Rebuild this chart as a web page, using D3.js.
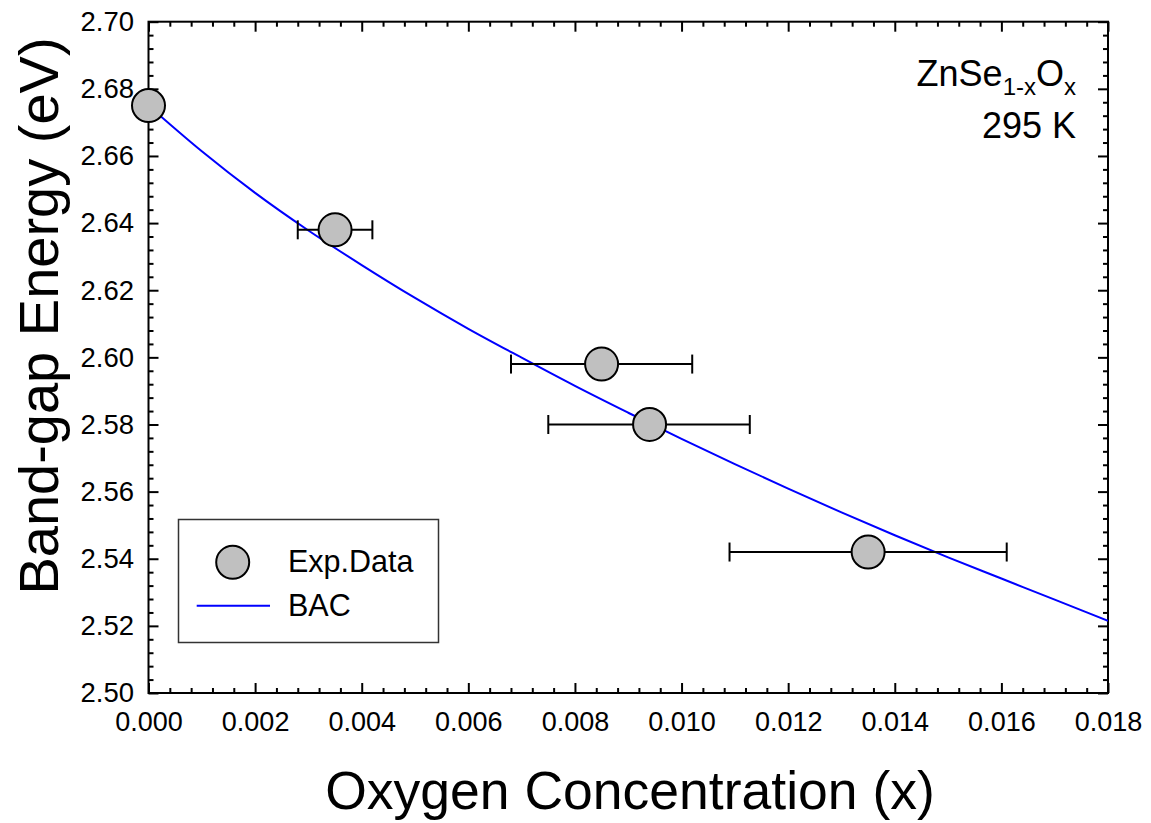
<!DOCTYPE html>
<html>
<head>
<meta charset="utf-8">
<script src="https://cdn.jsdelivr.net/npm/d3@7"></script>
<style>
  body { margin: 0; background: #fff; }
  svg { display: block; font-family: "Liberation Sans", Arial, sans-serif; }
</style>
</head>
<body>
<svg id="chart" width="1151" height="823"></svg>
<script>
// ---- data ----
const expX    = [0.0000, 0.0035, 0.0085, 0.0094, 0.0135];
const expY    = [2.675, 2.638, 2.598, 2.580, 2.542];
const errLow  = [null, 0.0028, 0.0068, 0.0075, 0.0109];
const errHigh = [null, 0.0042, 0.0102, 0.01128, 0.0161];

const bacX = [0.000, 0.001, 0.002, 0.003, 0.004, 0.005, 0.006, 0.007, 0.008, 0.009,
              0.010, 0.011, 0.012, 0.013, 0.014, 0.015, 0.016, 0.017, 0.018];
const bacY = [2.6750, 2.6614, 2.6490, 2.6378, 2.6275, 2.6177, 2.6085, 2.5999, 2.5915, 2.5835,
              2.5757, 2.5682, 2.5609, 2.5538, 2.5470, 2.5404, 2.5341, 2.5278, 2.5215];

const xTicks = [0.000, 0.002, 0.004, 0.006, 0.008, 0.010, 0.012, 0.014, 0.016, 0.018];
const xTickLabels = ["0.000","0.002","0.004","0.006","0.008","0.010","0.012","0.014","0.016","0.018"];
const yTicks = [2.50, 2.52, 2.54, 2.56, 2.58, 2.60, 2.62, 2.64, 2.66, 2.68, 2.70];
const yTickLabels = ["2.50","2.52","2.54","2.56","2.58","2.60","2.62","2.64","2.66","2.68","2.70"];
const xMinorStep = 0.0004;
const yMinorStep = 0.004;

const seriesNames = ["Exp.Data", "BAC"];

// ---- layout ----
const L = 148.5, R = 1108, T = 21.7, B = 693;
const svg = d3.select("#chart");

const x = d3.scaleLinear().domain([0, 0.018]).range([L, R]);
const y = d3.scaleLinear().domain([2.50, 2.70]).range([B, T]);

const xMinor = d3.range(0, 0.018 + 1e-9, xMinorStep).filter(v => !xTicks.some(t => Math.abs(t - v) < 1e-9));
const yMinor = d3.range(2.50, 2.70 + 1e-9, yMinorStep).filter(v => !yTicks.some(t => Math.abs(t - v) < 1e-9));

function styleAxis(g) {
  g.select(".domain").remove();
  g.selectAll(".tick line").attr("stroke", "#000").attr("stroke-width", 2);
}

// bottom major (with labels)
svg.append("g").attr("transform", `translate(0,${B})`)
  .call(d3.axisBottom(x).tickValues(xTicks).tickSizeInner(-10).tickSizeOuter(0)
        .tickFormat((d, i) => xTickLabels[i]))
  .call(styleAxis)
  .call(g => g.selectAll("text").attr("font-size", 27).attr("fill", "#000")
                .attr("font-family", "Liberation Sans, Arial, sans-serif").attr("dy", "0.71em").attr("y", 18.5));
// bottom minor
svg.append("g").attr("transform", `translate(0,${B})`)
  .call(d3.axisBottom(x).tickValues(xMinor).tickSizeInner(-5).tickSizeOuter(0).tickFormat(""))
  .call(styleAxis);
// top major/minor
svg.append("g").attr("transform", `translate(0,${T})`)
  .call(d3.axisTop(x).tickValues(xTicks).tickSizeInner(-10).tickSizeOuter(0).tickFormat(""))
  .call(styleAxis);
svg.append("g").attr("transform", `translate(0,${T})`)
  .call(d3.axisTop(x).tickValues(xMinor).tickSizeInner(-5).tickSizeOuter(0).tickFormat(""))
  .call(styleAxis);
// left major (with labels)
svg.append("g").attr("transform", `translate(${L},0)`)
  .call(d3.axisLeft(y).tickValues(yTicks).tickSizeInner(-10).tickSizeOuter(0).tickPadding(14.5)
        .tickFormat((d, i) => yTickLabels[i]))
  .call(styleAxis)
  .call(g => g.selectAll("text").attr("font-size", 27.5).attr("fill", "#000")
                .attr("font-family", "Liberation Sans, Arial, sans-serif"));
svg.append("g").attr("transform", `translate(${L},0)`)
  .call(d3.axisLeft(y).tickValues(yMinor).tickSizeInner(-5).tickSizeOuter(0).tickFormat(""))
  .call(styleAxis);
// right
svg.append("g").attr("transform", `translate(${R},0)`)
  .call(d3.axisRight(y).tickValues(yTicks).tickSizeInner(-10).tickSizeOuter(0).tickFormat(""))
  .call(styleAxis);
svg.append("g").attr("transform", `translate(${R},0)`)
  .call(d3.axisRight(y).tickValues(yMinor).tickSizeInner(-5).tickSizeOuter(0).tickFormat(""))
  .call(styleAxis);

// frame
svg.append("rect").attr("x", L).attr("y", T).attr("width", R - L).attr("height", B - T)
  .attr("fill", "none").attr("stroke", "#000").attr("stroke-width", 2);

// clip
svg.append("clipPath").attr("id", "plotclip")
  .append("rect").attr("x", L).attr("y", T).attr("width", R - L).attr("height", B - T);

// BAC curve
const bacData = bacX.map((v, i) => [v, bacY[i]]);
svg.append("path").datum(bacData)
  .attr("clip-path", "url(#plotclip)")
  .attr("fill", "none").attr("stroke", "#0000ff").attr("stroke-width", 2)
  .attr("d", d3.line().x(d => x(d[0])).y(d => y(d[1])).curve(d3.curveMonotoneX));

// error bars
const exp = expX.map((v, i) => ({x: v, y: expY[i], lo: errLow[i], hi: errHigh[i]}));
const eb = svg.append("g").attr("stroke", "#000").attr("stroke-width", 2).attr("fill", "none");
exp.filter(d => d.lo !== null).forEach(d => {
  eb.append("line").attr("x1", x(d.lo)).attr("x2", x(d.hi)).attr("y1", y(d.y)).attr("y2", y(d.y));
  eb.append("line").attr("x1", x(d.lo)).attr("x2", x(d.lo)).attr("y1", y(d.y) - 9.5).attr("y2", y(d.y) + 9.5);
  eb.append("line").attr("x1", x(d.hi)).attr("x2", x(d.hi)).attr("y1", y(d.y) - 9.5).attr("y2", y(d.y) + 9.5);
});

// markers
svg.append("g").selectAll("circle").data(exp).join("circle")
  .attr("cx", d => x(d.x)).attr("cy", d => y(d.y)).attr("r", 16.5)
  .attr("fill", "#c0c0c0").attr("stroke", "#000").attr("stroke-width", 2);

// legend
const lg = svg.append("g");
lg.append("rect").attr("x", 178.5).attr("y", 519.5).attr("width", 260).attr("height", 123)
  .attr("fill", "#fff").attr("stroke", "#333").attr("stroke-width", 1.5);
lg.append("circle").attr("cx", 232.7).attr("cy", 562.3).attr("r", 16.5)
  .attr("fill", "#c0c0c0").attr("stroke", "#000").attr("stroke-width", 2);
lg.append("line").attr("x1", 196.7).attr("x2", 270).attr("y1", 605.7).attr("y2", 605.7)
  .attr("stroke", "#0000ff").attr("stroke-width", 2);
lg.append("text").attr("x", 288).attr("y", 572).attr("font-size", 30.5).text(seriesNames[0]);
lg.append("text").attr("x", 288).attr("y", 616).attr("font-size", 30.5).text(seriesNames[1]);

// annotation
const ann = svg.append("text").attr("x", 1076).attr("y", 86).attr("text-anchor", "end").attr("font-size", 36);
ann.append("tspan").text("ZnSe");
ann.append("tspan").attr("font-size", 24).attr("dy", 9).text("1-x");
ann.append("tspan").attr("dy", -9).text("O");
ann.append("tspan").attr("font-size", 24).attr("dy", 9).text("x");
svg.append("text").attr("x", 1076).attr("y", 138).attr("text-anchor", "end").attr("font-size", 36).text("295 K");

// axis titles
svg.append("text").attr("x", 630).attr("y", 809).attr("text-anchor", "middle").attr("font-size", 53.5)
  .text("Oxygen Concentration (x)");
svg.append("text").attr("transform", "translate(58,316) rotate(-90)").attr("text-anchor", "middle")
  .attr("font-size", 56).text("Band-gap Energy (eV)");
</script>
</body>
</html>
